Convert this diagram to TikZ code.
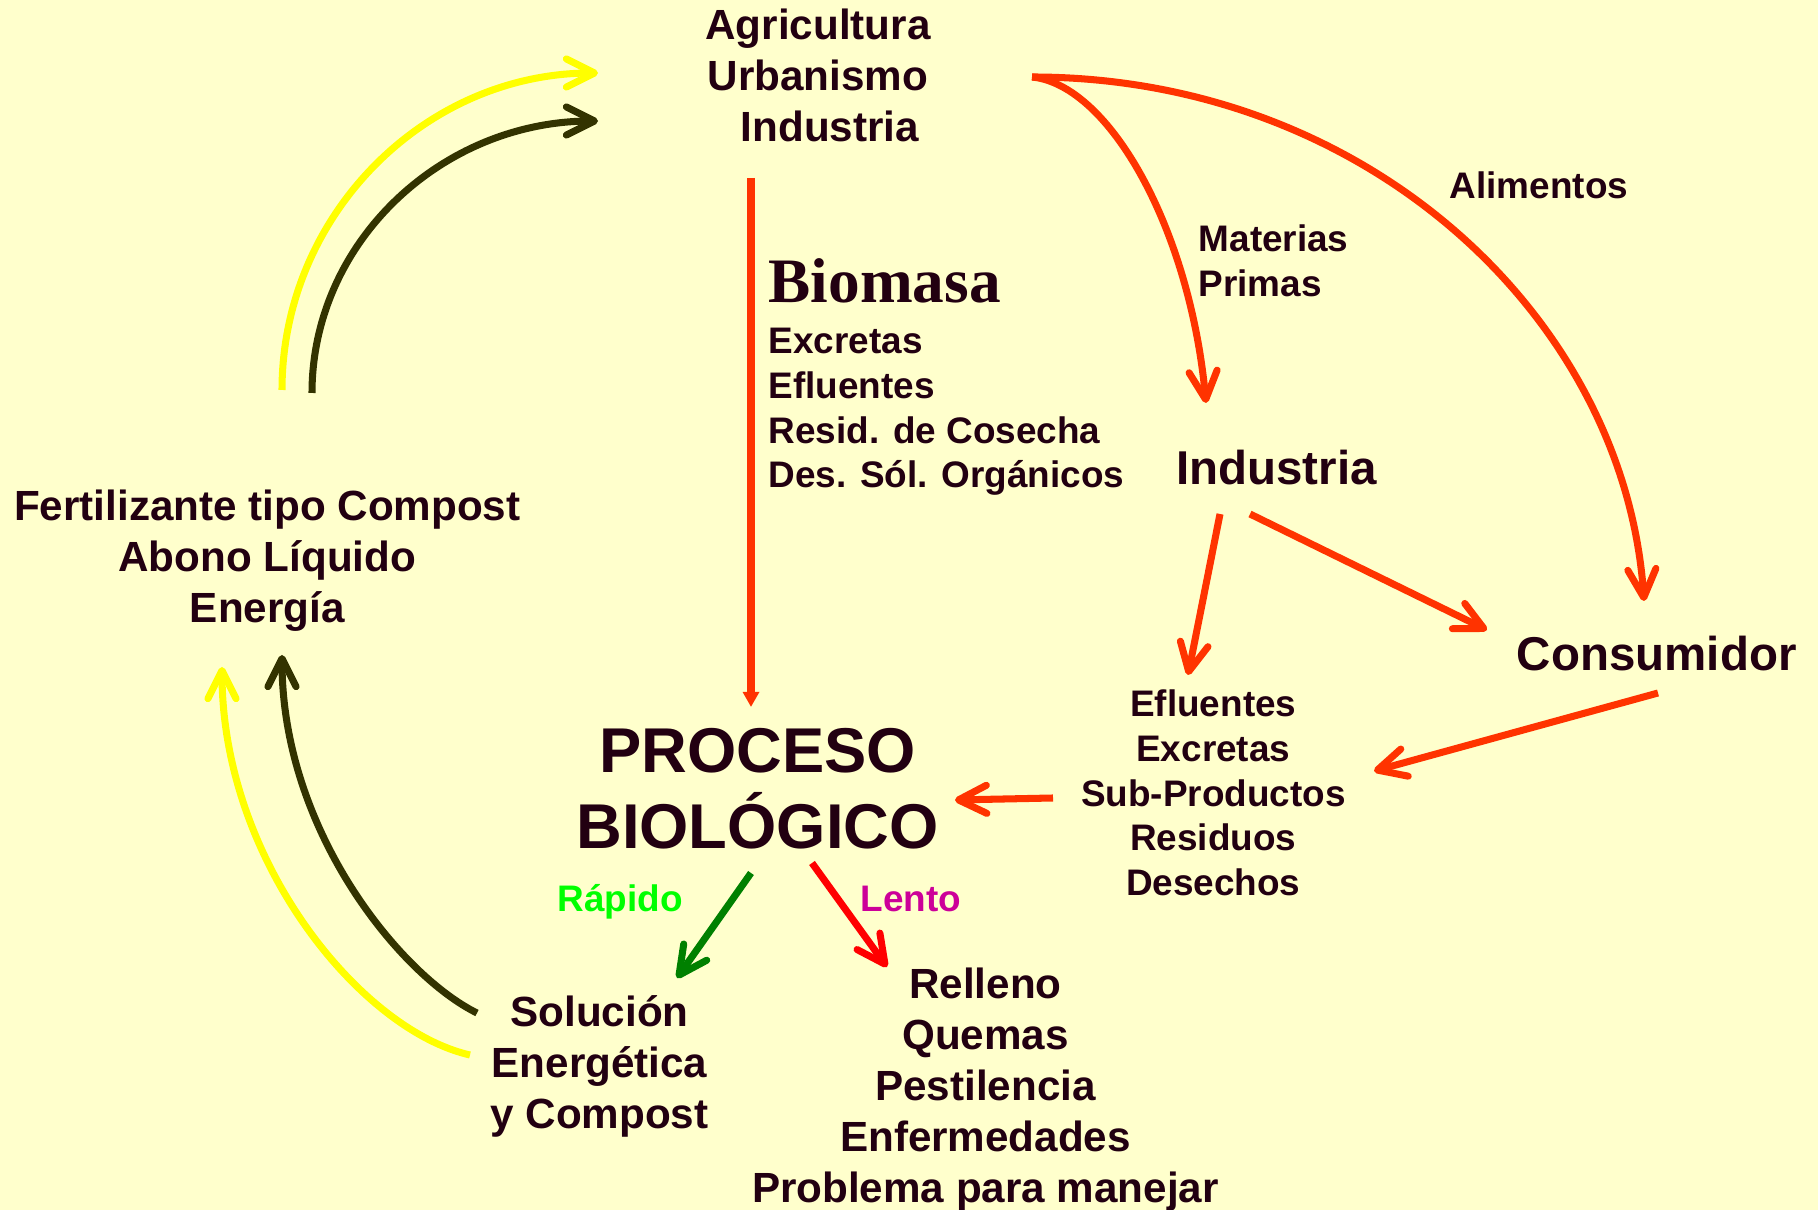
\documentclass[tikz,border=0pt]{standalone}
\usepackage{fontspec}
\setmainfont{Liberation Sans}
\newfontfamily\tituloserif{Liberation Serif}
\usetikzlibrary{arrows.meta}

\definecolor{fondo}{HTML}{FFFFCC}
\definecolor{tinta}{HTML}{220011}
\definecolor{naranja}{HTML}{FF3300}
\definecolor{oliva}{HTML}{333300}
\definecolor{amarillo}{HTML}{FFFF00}
\definecolor{verde}{HTML}{008000}
\definecolor{verdeclaro}{HTML}{00FF00}
\definecolor{rojo}{HTML}{FF0000}
\definecolor{lila}{HTML}{CC0099}

\tikzset{
  texto/.style={text=tinta, inner sep=0pt, align=center, font=\bfseries\fontsize{12}{14.5}\selectfont},
  textochico/.style={texto, font=\bfseries\fontsize{10.5}{12.7}\selectfont},
  textogrande/.style={texto, font=\bfseries\fontsize{13.5}{16}\selectfont},
  flecha/.style={line width=2pt, -{Straight Barb[length=8pt,width=8pt,round]}},
}

\begin{document}
\begin{tikzpicture}[x=0.01cm, y=-0.01cm]
    \fill[fondo] (0,0) rectangle (1818,1210);
    \useasboundingbox (0,0) rectangle (1818,1210);

    % Textos
    \node[texto] (agri) at (818,75.5) {Agricultura\\Urbanismo\\\hspace*{6.8pt}Industria};
    \node[anchor=base west, text=tinta, inner sep=0pt, font=\tituloserif\bfseries\fontsize{18}{21}\selectfont] (biomasa) at (768,303) {Biomasa};
    \node[textochico, align=left, anchor=west] (bioLista) at (768,412) {Excretas\\Efluentes\\Resid. de Cosecha\\Des. Sól. Orgánicos};
    \node[textochico, align=left, anchor=west] (materias) at (1198,261) {Materias\\Primas};
    \node[textochico, anchor=base west] (alimentos) at (1449,198.7) {Alimentos};
    \node[textogrande, anchor=base] (industria) at (1276.5,485) {Industria};
    \node[textogrande, anchor=base] (consumidor) at (1656.7,671) {Consumidor};
    \node[textochico] (residuos) at (1213.3,793) {Efluentes\\Excretas\\Sub-Productos\\Residuos\\Desechos};
    \node[texto, font=\bfseries\fontsize{18}{21.6}\selectfont] (proceso) at (757.5,789) {PROCESO\\BIOLÓGICO};
    \node[textochico, text=verdeclaro, anchor=base] (rapido) at (620,911.7) {Rápido};
    \node[textochico, text=lila, anchor=base] (lento) at (910.8,911.7) {Lento};
    \node[texto] (solucion) at (599.5,1066) {Solución\\Energética\\y Compost};
    \node[texto] (relleno) at (985.5,1090) {Relleno\\Quemas\\Pestilencia\\Enfermedades\\Problema para manejar};
    \node[texto] (fertil) at (267.3,560.6) {Fertilizante tipo Compost\\Abono Líquido\\Energía};

    % Puntos de llegada y salida de las flechas
    \coordinate (agriA) at (598,73);
    \coordinate (agriB) at (598,121);
    \coordinate (agriC) at (1032,77);
    \coordinate (fertA) at (282,390);
    \coordinate (fertB) at (312,393);
    \coordinate (fertC) at (222,667);
    \coordinate (fertD) at (282,655);
    \coordinate (solA) at (470,1055);
    \coordinate (solB) at (477,1013);
    \coordinate (bioTop) at (751,178);
    \coordinate (procTop) at (751,707);
    \coordinate (indEnt) at (1206,403);
    \coordinate (consEnt) at (1644,601);
    \coordinate (indSalA) at (1220,514);
    \coordinate (indSalB) at (1250,514);
    \coordinate (resEntA) at (1188,675);
    \coordinate (consEntB) at (1487,630);
    \coordinate (consSal) at (1658,693);
    \coordinate (resEntB) at (1374,771);
    \coordinate (resSal) at (1053,798);
    \coordinate (procEnt) at (955,800);
    \coordinate (procSalA) at (751,873);
    \coordinate (solEnt) at (677,978);
    \coordinate (procSalB) at (812,863);
    \coordinate (relEnt) at (887,967);

    % Retorno al campo
    \draw[flecha, amarillo] (fertA) .. controls +(0,-174) and +(-174,0) .. (agriA);
    \draw[flecha, oliva] (fertB) .. controls +(0,-150) and +(-157,0) .. (agriB);
    \draw[flecha, amarillo] (solA) .. controls +(-110,-25) and +(0,193) .. (fertC);
    \draw[flecha, oliva] (solB) .. controls +(-77,-38) and +(0,175) .. (fertD);

    % Biomasa
    \draw[naranja, line width=2pt, -{Triangle[length=4.3pt,width=4.5pt]}] (bioTop) -- (procTop);

    % Materias primas y alimentos
    \draw[flecha, naranja] (agriC) .. controls +(78,8) and +(-16,-173) .. (indEnt);
    \draw[flecha, naranja] (agriC) .. controls +(337,0) and +(-19,-281) .. (consEnt);
    \draw[flecha, naranja] (indSalA) -- (resEntA);
    \draw[flecha, naranja] (indSalB) -- (consEntB);
    \draw[flecha, naranja] (consSal) -- (resEntB);
    \draw[flecha, naranja] (resSal) -- (procEnt);

    % Salidas del proceso
    \draw[flecha, verde] (procSalA) -- (solEnt);
    \draw[flecha, rojo] (procSalB) -- (relEnt);
\end{tikzpicture}
\end{document}
